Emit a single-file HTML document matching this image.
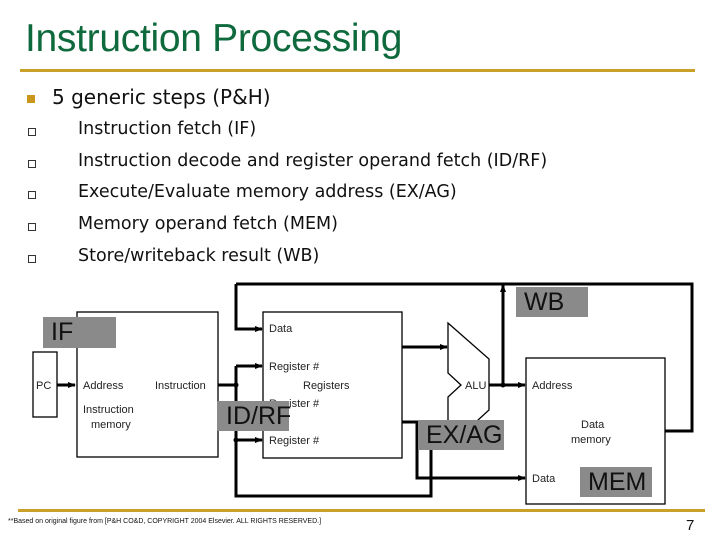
<!DOCTYPE html>
<html><head><meta charset="utf-8"><style>
body{margin:0;width:720px;height:540px;background:#fff;position:relative;overflow:hidden;font-family:"Liberation Sans",sans-serif}
.a{position:absolute;white-space:nowrap}
.t{left:25px;top:17px;font-size:39px;color:#0e6a3c;letter-spacing:-0.3px}
.l1{left:52px;top:85px;font-size:20px;color:#111;font-family:"DejaVu Sans",sans-serif}
.s{left:78px;font-size:17.5px;color:#111;font-family:"DejaVu Sans",sans-serif}
.cb{position:absolute;left:28px;width:6px;height:6px;border:1px solid #333;background:#fff}
.g{position:absolute;background:#8a8a8a;font-size:25px;color:#111;line-height:30px}
</style></head><body>
<div class="a t">Instruction Processing</div>
<div style="position:absolute;left:20px;top:69px;width:675px;height:3px;background:#c8a02a"></div>
<div style="position:absolute;left:27px;top:95px;width:8px;height:8px;background:#c8961a"></div>
<div class="a l1">5 generic steps (P&amp;H)</div>
<div class="cb" style="top:128px"></div><div class="a s" style="top:119px">Instruction fetch (IF)</div>
<div class="cb" style="top:160px"></div><div class="a s" style="top:151px">Instruction decode and register operand fetch (ID/RF)</div>
<div class="cb" style="top:191px"></div><div class="a s" style="top:182px">Execute/Evaluate memory address (EX/AG)</div>
<div class="cb" style="top:223px"></div><div class="a s" style="top:214px">Memory operand fetch (MEM)</div>
<div class="cb" style="top:255px"></div><div class="a s" style="top:246px">Store/writeback result (WB)</div>

<svg style="position:absolute;left:0;top:0" width="720" height="540" font-family="Liberation Sans,sans-serif" font-size="11">
<defs><marker id="ar" markerUnits="userSpaceOnUse" markerWidth="8" markerHeight="8" refX="7" refY="4" orient="auto"><path d="M0,1L8,4L0,7z" fill="#000"/></marker></defs>
<g fill="none" stroke="#000" stroke-width="1.3">
<rect x="33" y="352" width="24" height="65"/>
<rect x="77" y="312" width="141" height="145"/>
<rect x="263" y="312" width="139" height="146"/>
<rect x="526" y="358" width="139" height="146"/>
<path d="M448,323 L489,359 L489,410 L478,420 L478,430 L448,447 L448,397 L461,385 L448,373 Z"/>
</g>
<g fill="none" stroke="#000" stroke-width="3">
<path d="M57,385 H75" marker-end="url(#ar)"/>
<path d="M218,385 H236"/>
<path d="M236,284 H692 V431 H665"/>
<path d="M236,284 V329 H262" marker-end="url(#ar)"/>
<path d="M236,366 H262" marker-end="url(#ar)"/>
<path d="M236,366 V496 H431 V422"/>
<path d="M236,440 H262" marker-end="url(#ar)"/>
<path d="M402,347 H447" marker-end="url(#ar)"/>
<path d="M402,422 H417 V478 H525" marker-end="url(#ar)"/>
<path d="M489,385 H525" marker-end="url(#ar)"/>
<path d="M503,385 V285" marker-end="url(#ar)"/>
</g>
<circle cx="236" cy="385" r="2.5"/><circle cx="236" cy="440" r="2.5"/><circle cx="503" cy="385" r="2.5"/>
<g fill="#222">
<text x="36" y="389">PC</text>
<text x="83" y="389">Address</text>
<text x="155" y="389">Instruction</text>
<text x="83" y="413">Instruction</text>
<text x="91" y="428">memory</text>
<text x="269" y="332">Data</text>
<text x="269" y="370">Register #</text>
<text x="303" y="389">Registers</text>
<text x="269" y="407">Register #</text>
<text x="269" y="444">Register #</text>
<text x="465" y="389">ALU</text>
<text x="532" y="389">Address</text>
<text x="581" y="428">Data</text>
<text x="571" y="443">memory</text>
<text x="532" y="482">Data</text>
</g>
</svg>
<div class="g" style="left:43px;top:317px;width:73px;height:31px;padding-left:8px;box-sizing:border-box">IF</div>
<div class="g" style="left:217px;top:401px;width:72px;height:30px;padding-left:9px;box-sizing:border-box">ID/RF</div>
<div class="g" style="left:418px;top:420px;width:86px;height:30px;padding-left:8px;box-sizing:border-box">EX/AG</div>
<div class="g" style="left:516px;top:287px;width:72px;height:30px;padding-left:8px;box-sizing:border-box">WB</div>
<div class="g" style="left:580px;top:467px;width:72px;height:30px;padding-left:8px;box-sizing:border-box">MEM</div>
<div style="position:absolute;left:18px;top:509px;width:687px;height:3px;background:#c8a02a"></div>
<div class="a" style="left:8px;top:518px;font-size:7px;color:#111">**Based on original figure from [P&amp;H CO&amp;D, COPYRIGHT 2004 Elsevier. ALL RIGHTS RESERVED.]</div>
<div class="a" style="left:686px;top:517px;font-size:15px;color:#111">7</div>
</body></html>
